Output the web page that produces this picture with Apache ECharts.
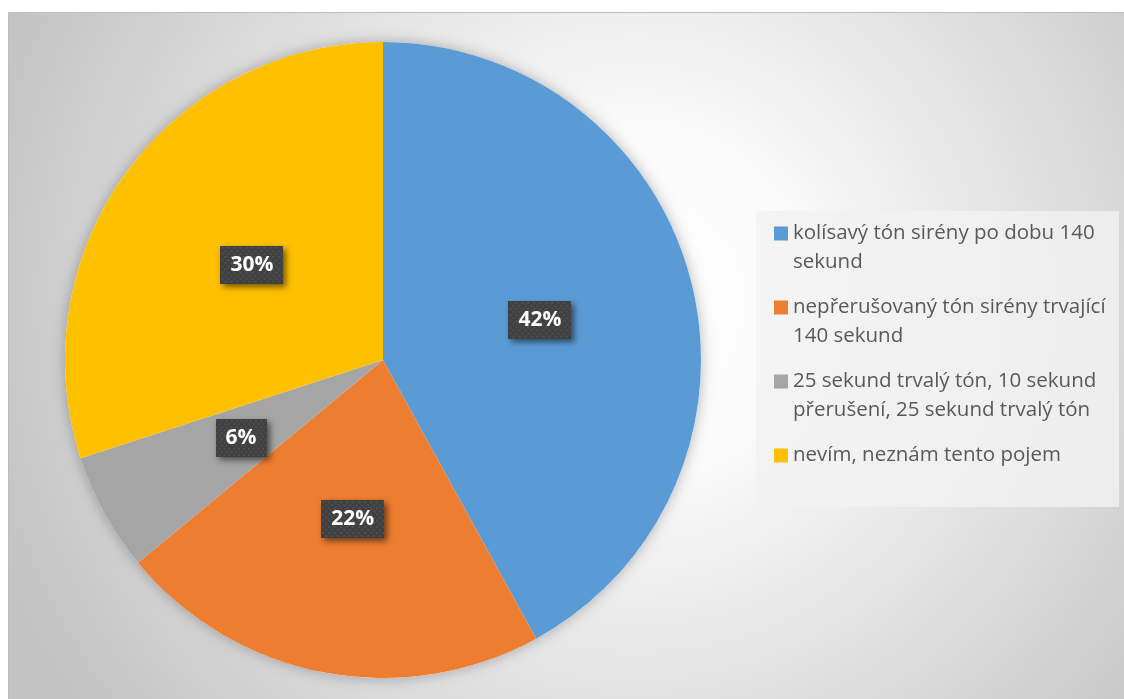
<!DOCTYPE html>
<html>
<head>
<meta charset="utf-8">
<script src="https://cdn.jsdelivr.net/npm/echarts@6/dist/echarts.min.js"></script>
<style>
  html, body { margin: 0; padding: 0; background: #ffffff; }
  #chart { width: 1124px; height: 699px; }
</style>
</head>
<body>
<div id="chart"></div>
<script>
// Answer categories and their shares (%)
const categories = [
  'kolísavý tón sirény po dobu 140 sekund',
  'nepřerušovaný tón sirény trvající 140 sekund',
  '25 sekund trvalý tón, 10 sekund přerušení, 25 sekund trvalý tón',
  'nevím, neznám tento pojem'
];
const shares = [42, 22, 6, 30];
// Legend text split into lines
const legendLines = [
  ['kolísavý tón sirény po dobu 140', 'sekund'],
  ['nepřerušovaný tón sirény trvající', '140 sekund'],
  ['25 sekund trvalý tón, 10 sekund', 'přerušení, 25 sekund trvalý tón'],
  ['nevím, neznám tento pojem']
];
const colors = ['#5b9bd5', '#ed7d31', '#a5a5a5', '#ffc000'];

const FONT = '"Open Sans", Lato, sans-serif';

// Dotted dark texture for the value labels
function dottedTexture(w, h) {
  const c = document.createElement('canvas');
  c.width = w; c.height = h;
  const g = c.getContext('2d');
  g.fillStyle = '#404040';
  g.fillRect(0, 0, w, h);
  g.fillStyle = '#4f4f4f';
  for (let y = 1, row = 0; y < h; y += 3, row++) {
    for (let x = (row % 2) * 3 + 1; x < w; x += 6) {
      g.fillRect(x, y, 2, 2);
    }
  }
  return c;
}
const texture = dottedTexture(63, 37);

const chart = echarts.init(document.getElementById('chart'), null, { renderer: 'canvas' });

const rich = {
  t: { fontFamily: FONT, fontSize: 20.5, color: '#595959', lineHeight: 29, verticalAlign: 'middle' },
  gap: { width: 5, lineHeight: 29 },
  ind: { width: 19, lineHeight: 29 }
};
colors.forEach((c, i) => {
  rich['s' + i] = { width: 14, height: 14, backgroundColor: c, lineHeight: 29, verticalAlign: 'middle' };
});

const option = {
  animation: false,
  color: colors,
  graphic: [
    {
      type: 'rect',
      z: -10,
      shape: { x: 8.5, y: 12.5, width: 1120, height: 690 },
      style: {
        fill: new echarts.graphic.RadialGradient(0.56, 0.42, 1.0, [
          { offset: 0, color: '#ffffff' },
          { offset: 0.25, color: '#fafafa' },
          { offset: 1, color: '#c2c2c2' }
        ]),
        stroke: '#bdbdbd',
        lineWidth: 1
      },
      silent: true
    },
    {
      type: 'rect',
      z: -5,
      shape: { x: 756, y: 211, width: 363, height: 296 },
      style: { fill: 'rgba(242,242,242,0.82)' },
      silent: true
    }
  ],
  legend: {
    orient: 'vertical',
    left: 764,
    top: 218,
    itemWidth: 0,
    itemHeight: 14,
    itemGap: 24,
    icon: 'rect',
    itemStyle: { opacity: 0 },
    selectedMode: false,
    data: categories,
    formatter: function (name) {
      const i = categories.indexOf(name);
      const lines = legendLines[i];
      let s = '{s' + i + '| }{gap| }{t|' + lines[0] + '}';
      for (let k = 1; k < lines.length; k++) {
        s += '\n{ind| }{t|' + lines[k] + '}';
      }
      return s;
    },
    textStyle: { rich: rich }
  },
  series: [
    {
      // soft shadow under the pie
      type: 'pie',
      silent: true,
      z: 1,
      center: [383, 360],
      radius: 318,
      startAngle: 90,
      label: { show: false },
      labelLine: { show: false },
      itemStyle: { color: '#ffffff', shadowBlur: 14, shadowColor: 'rgba(0,0,0,0.28)' },
      data: [{ value: 1, name: '' }],
      emphasis: { disabled: true },
      legendHoverLink: false
    },
    {
      type: 'pie',
      z: 2,
      center: [383, 360],
      radius: 318,
      startAngle: 90,
      clockwise: true,
      itemStyle: { borderWidth: 0 },
      label: {
        show: true,
        position: 'inside',
        formatter: function (p) { return p.value + '%'; },
        fontFamily: FONT,
        fontWeight: 'bold',
        fontSize: 21,
        color: '#ffffff',
        backgroundColor: { image: texture },
        padding: [9, 10, 8, 10],
        shadowColor: 'rgba(0,0,0,0.55)',
        shadowBlur: 6,
        shadowOffsetX: 3,
        shadowOffsetY: 3
      },
      labelLine: { show: false },
      emphasis: { scale: false },
      data: categories.map((n, i) => ({ name: n, value: shares[i] }))
    }
  ]
};
chart.setOption(option);
</script>
</body>
</html>
